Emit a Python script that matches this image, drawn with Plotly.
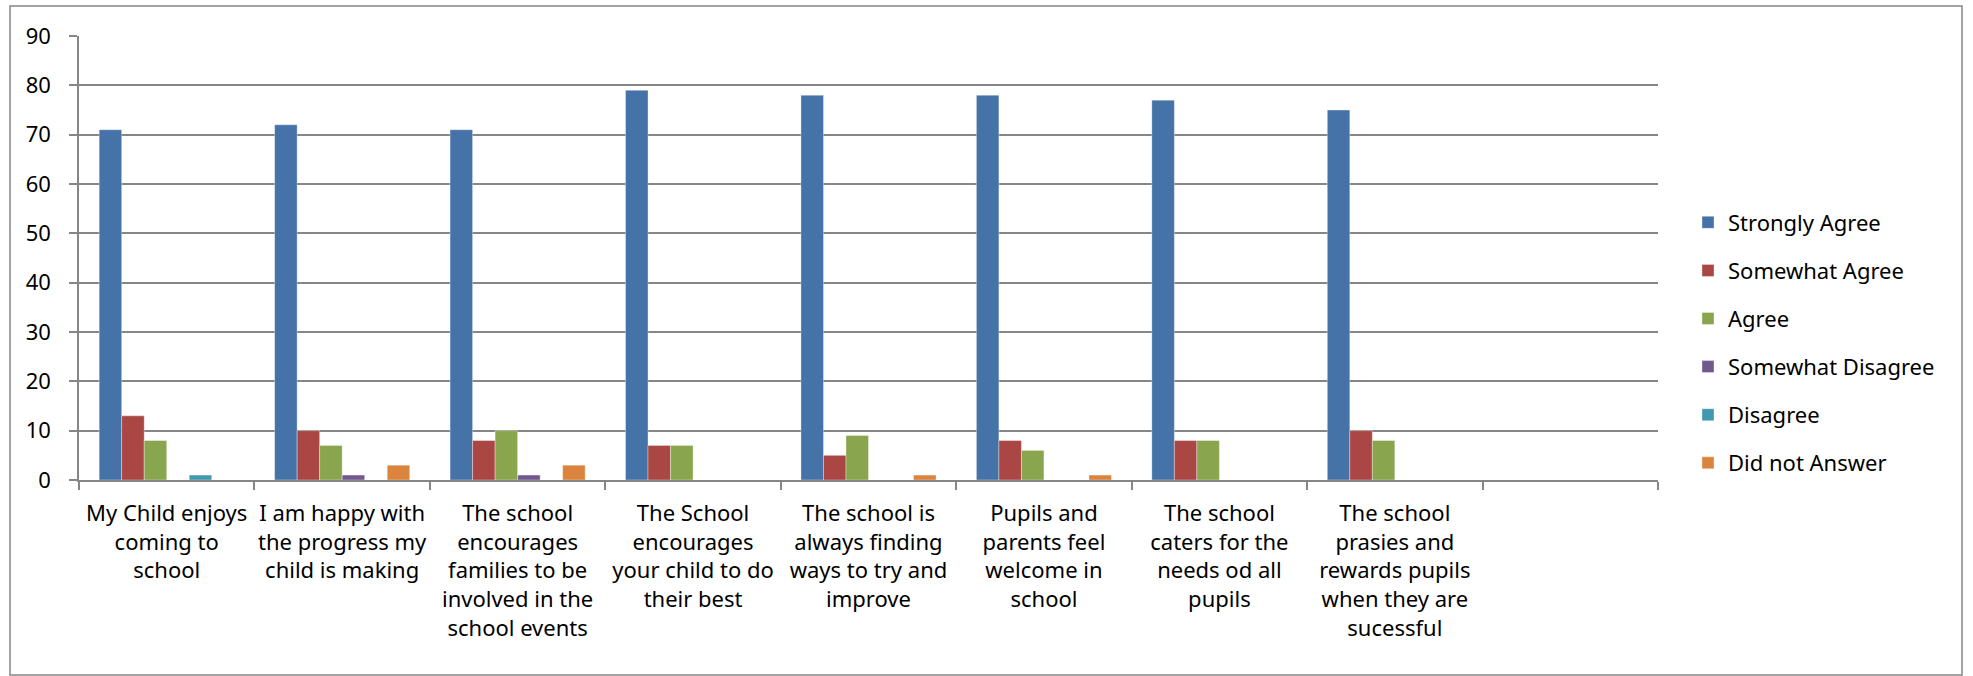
import plotly.graph_objects as go

categories = [
    "My Child enjoys<br>coming to<br>school",
    "I am happy with<br>the progress my<br>child is making",
    "The school<br>encourages<br>families to be<br>involved in the<br>school events",
    "The School<br>encourages<br>your child to do<br>their best",
    "The school is<br>always finding<br>ways to try and<br>improve",
    "Pupils and<br>parents feel<br>welcome in<br>school",
    "The school<br>caters for the<br>needs od all<br>pupils",
    "The school<br>prasies and<br>rewards pupils<br>when they are<br>sucessful",
    " ",
]

strongly_agree = [71, 72, 71, 79, 78, 78, 77, 75, None]
somewhat_agree = [13, 10, 8, 7, 5, 8, 8, 10, None]
agree = [8, 7, 10, 7, 9, 6, 8, 8, None]
somewhat_disagree = [0, 1, 1, 0, 0, 0, 0, 0, None]
disagree = [1, 0, 0, 0, 0, 0, 0, 0, None]
did_not_answer = [0, 3, 3, 0, 1, 1, 0, 0, None]

series = [
    ("Strongly Agree", strongly_agree, "#4572A7"),
    ("Somewhat Agree", somewhat_agree, "#AA4643"),
    ("Agree", agree, "#89A54E"),
    ("Somewhat Disagree", somewhat_disagree, "#71588F"),
    ("Disagree", disagree, "#4198AF"),
    ("Did not Answer", did_not_answer, "#DB843D"),
]

y_ticks = [0, 10, 20, 30, 40, 50, 60, 70, 80, 90]

FONT = "Noto Sans"
W, H = 1973, 676
L, R, T, B = 79, 1658, 36, 480

fig = go.Figure()
for i, (name, vals, col) in enumerate(series):
    fig.add_trace(go.Bar(
        x=categories, y=vals, name=name,
        marker=dict(color=col, line=dict(color="rgba(255,255,255,0.35)", width=1)),
        legendgroup=f"g{i}",
    ))

pw = R - L
ph = B - T
fig.add_shape(type="rect", xref="paper", yref="paper",
              x0=(10 - L) / pw, x1=(1962 - L) / pw,
              y0=(B - 675) / ph, y1=(B - 6) / ph,
              line=dict(color="#868686", width=1.5), fillcolor="rgba(0,0,0,0)",
              layer="below")

fig.update_layout(
    width=W, height=H,
    margin=dict(l=L, r=W - R, t=T, b=H - B, pad=0),
    paper_bgcolor="white", plot_bgcolor="white",
    barmode="group", bargap=0.23, bargroupgap=0,
    font=dict(family=FONT, size=22, color="#000000"),
    showlegend=True,
    legend=dict(
        x=(1688 - L) / pw, xanchor="left",
        y=(B - 343) / ph, yanchor="middle",
        traceorder="grouped", tracegroupgap=16.5,
        font=dict(family=FONT, size=22, color="#000000"),
        bgcolor="rgba(0,0,0,0)",
    ),
    xaxis=dict(
        type="category",
        showgrid=False,
        showline=True, linecolor="#868686", linewidth=1.5,
        ticks="outside", tickson="boundaries", ticklen=8,
        tickcolor="#868686", tickwidth=1.5,
        tickfont=dict(family=FONT, size=22, color="#000000"),
        tickangle=0,
        ticklabelstandoff=13,
        range=[-0.5, 8.5],
    ),
    yaxis=dict(
        range=[0, 90],
        tickvals=y_ticks,
        showgrid=True, gridcolor="#868686", gridwidth=1.5,
        showline=True, linecolor="#868686", linewidth=1.5,
        ticks="outside", ticklen=8, tickcolor="#868686", tickwidth=1.5,
        tickfont=dict(family=FONT, size=22, color="#000000"),
        ticklabelstandoff=14,
        zeroline=False,
    ),
)

fig.write_html("out.html", config={"displayModeBar": False},
               post_script="document.body.style.margin='0px';document.body.style.overflow='hidden';")
